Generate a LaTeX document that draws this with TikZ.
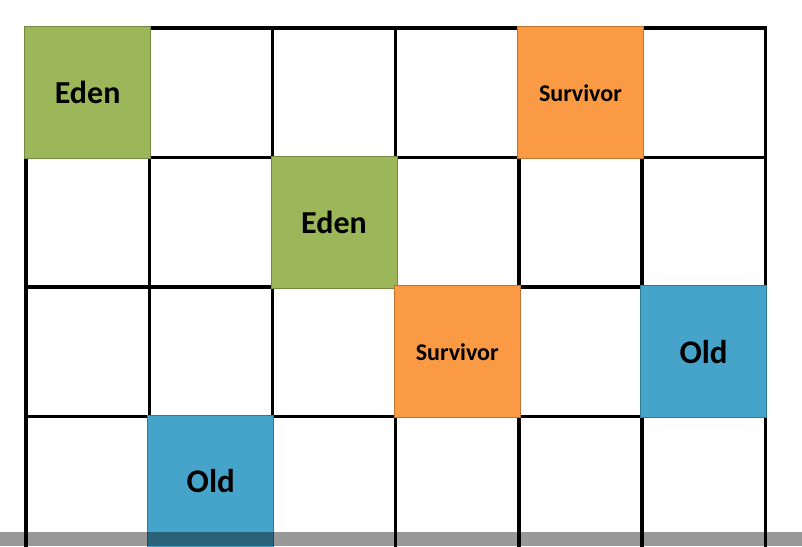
\documentclass[tikz,border=0pt]{standalone}
\usepackage{fontspec}
\setmainfont{Carlito}
\definecolor{edenfill}{HTML}{9BB75A}
\definecolor{edenline}{HTML}{728A40}
\definecolor{survfill}{HTML}{FA9A44}
\definecolor{survline}{HTML}{C0732E}
\definecolor{oldfill}{HTML}{46A4CA}
\definecolor{oldline}{HTML}{2F7A96}
\tikzset{
  gridline/.style={line width=3.4pt, black},
  cellbox/.style={minimum width=126pt, minimum height=132pt, inner sep=0pt, line width=1pt, font=\bfseries, text=black},
  eden/.style={cellbox, fill=edenfill, draw=edenline, font=\fontsize{32}{32}\selectfont\bfseries},
  surv/.style={cellbox, fill=survfill, draw=survline, font=\fontsize{24}{24}\selectfont\bfseries},
  old/.style={cellbox, fill=oldfill, draw=oldline, font=\fontsize{33}{33}\selectfont\bfseries},
}
\begin{document}
\begin{tikzpicture}[x=1pt,y=-1pt]
\useasboundingbox (0,0) rectangle (802,546);
\clip (0,0) rectangle (802,546);
\fill[white] (0,0) rectangle (802,546);
% grid
\foreach \i in {0,...,6} {
  \draw[gridline] ({26+123.2*\i},26.3) -- ({26+123.2*\i},550);
}
\foreach \j in {0,...,3} {
  \draw[gridline] (24.3,{28+129.5*\j}) -- (766.9,{28+129.5*\j});
}
% cells (centres)
\node[eden] (eden1) at ({26+123.2*0.5},{28+129.5*0.5}) {Eden};
\node[surv] (surv1) at ({26+123.2*4.5},{28+129.5*0.5}) {Survivor};
\node[eden] (eden2) at ({26+123.2*2.5},{28+129.5*1.5}) {Eden};
\node[surv] (surv2) at ({26+123.2*3.5},{28+129.5*2.5}) {Survivor};
\node[old] (old1) at ({26+123.2*5.5},{28+129.5*2.5}) {Old};
\node[old] (old2) at ({26+123.2*1.5},{28+129.5*3.5}) {Old};
% bottom overlay bar
\fill[black, opacity=0.4] (0,532) rectangle (802,546);
\end{tikzpicture}
\end{document}
